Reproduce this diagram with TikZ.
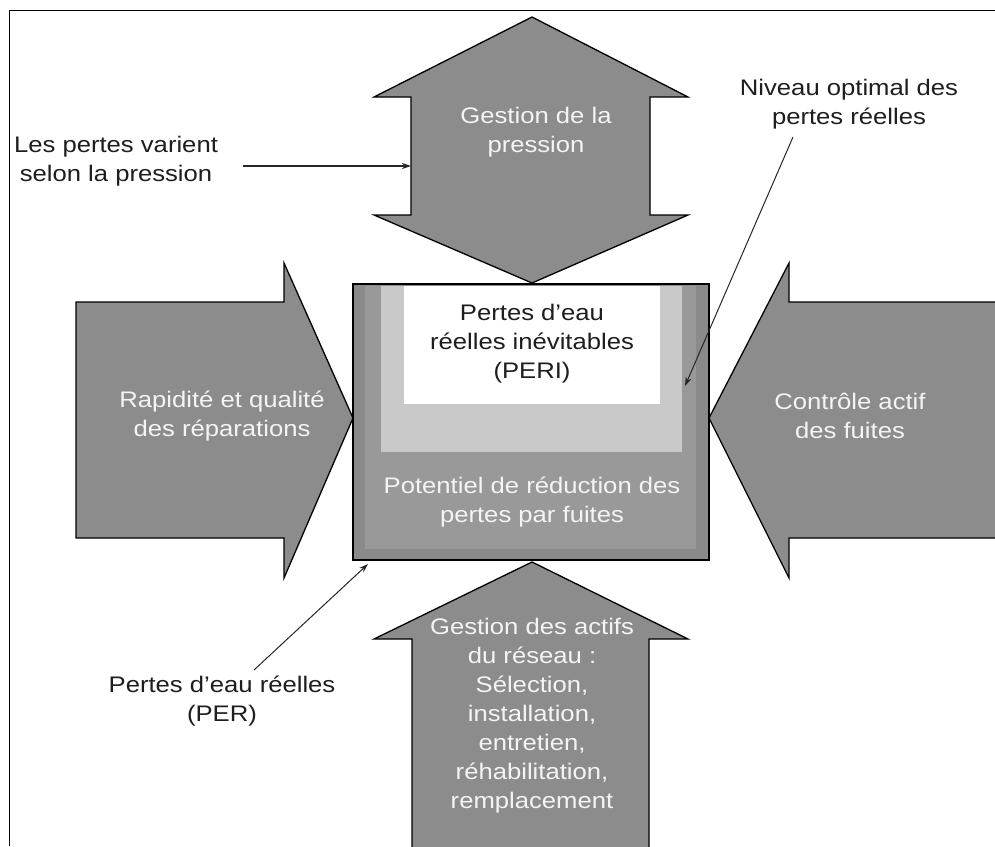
\documentclass[tikz,border=0pt]{standalone}
\usepackage{fontspec}
\setmainfont{Liberation Sans}[FakeStretch=1.14]
\usetikzlibrary{arrows.meta}
\definecolor{arrgray}{HTML}{8C8C8C}
\definecolor{boxgray}{HTML}{8A8A8A}
\definecolor{midgray}{HTML}{999999}
\definecolor{lightgrayb}{HTML}{C9C9C9}
\definecolor{txtwhite}{HTML}{F4F4F4}
\definecolor{txtdark}{HTML}{1E1E1E}
\begin{document}
\begin{tikzpicture}[x=1pt,y=-1pt,
  bigarrow/.style={fill=arrgray, draw=black, line width=1.3pt, line join=miter},
  wlabel/.style={text=txtwhite, align=center, font=\fontsize{22.5}{29}\selectfont, inner sep=0pt},
  blabel/.style={text=txtdark, align=center, font=\fontsize{22.5}{29}\selectfont, inner sep=0pt},
  pointer/.style={draw=black!85, line width=1pt, -{Stealth[length=9pt,width=6pt]}}]
\useasboundingbox (0,0) rectangle (995,846);
\fill[white] (0,0) rectangle (995,846);
% frame
\draw[line width=1pt] (9,846) -- (9,10.5) -- (995,10.5);
% top double arrow
\draw[bigarrow] (532,17) -- (688,97) -- (650,97) -- (650,215) -- (688,215) -- (532,283)
  -- (374,215) -- (411,215) -- (411,97) -- (374,97) -- cycle;
% left arrow
\draw[bigarrow] (76,302) -- (284,302) -- (284,263) -- (353,418) -- (284,578) -- (284,538) -- (76,538) -- cycle;
% right arrow
\draw[bigarrow] (1005,302) -- (789,302) -- (789,263) -- (709,418) -- (789,578) -- (789,538) -- (1005,538) -- cycle;
% bottom arrow
\draw[bigarrow] (532,562) -- (688,639) -- (649,639) -- (649,870) -- (412,870) -- (412,639) -- (374,639) -- cycle;
% central box
\draw[fill=boxgray, line width=1.3pt] (353,284) rectangle (709,560);
\fill[midgray] (365,286) rectangle (696,549);
\fill[lightgrayb] (381,286) rectangle (682,452);
\fill[white] (404,286) rectangle (660,404);
% labels
\node[wlabel] (pression) at (536,132) {Gestion de la\\pression};
\node[wlabel] (repar) at (222,416) {Rapidité et qualité\\des réparations};
\node[wlabel] (controle) at (850,416) {Contrôle actif\\des fuites};
\node[blabel] (peri) at (532,344) {Pertes d’eau\\réelles inévitables\\(PERI)};
\node[wlabel] (potentiel) at (532,502) {Potentiel de réduction des\\pertes par fuites};
\node[wlabel] (actifs) at (532,716) {Gestion des actifs\\du réseau :\\Sélection,\\installation,\\entretien,\\réhabilitation,\\remplacement};
\node[blabel] (varient) at (116,161) {Les pertes varient\\selon la pression};
\node[blabel] (niveau) at (849,104) {Niveau optimal des\\pertes réelles};
\node[blabel] (per) at (222,701) {Pertes d’eau réelles\\(PER)};
% pointers
\coordinate (varS) at (243,166);
\coordinate (varE) at (411,166);
\coordinate (nivS) at (793,137);
\coordinate (nivE) at (685,386);
\coordinate (perS) at (254,670);
\coordinate (perE) at (368,564);
\draw[pointer, line width=1.3pt] (varS) -- (varE);
\draw[pointer] (nivS) -- (nivE);
\draw[pointer] (perS) -- (perE);
\end{tikzpicture}
\end{document}
